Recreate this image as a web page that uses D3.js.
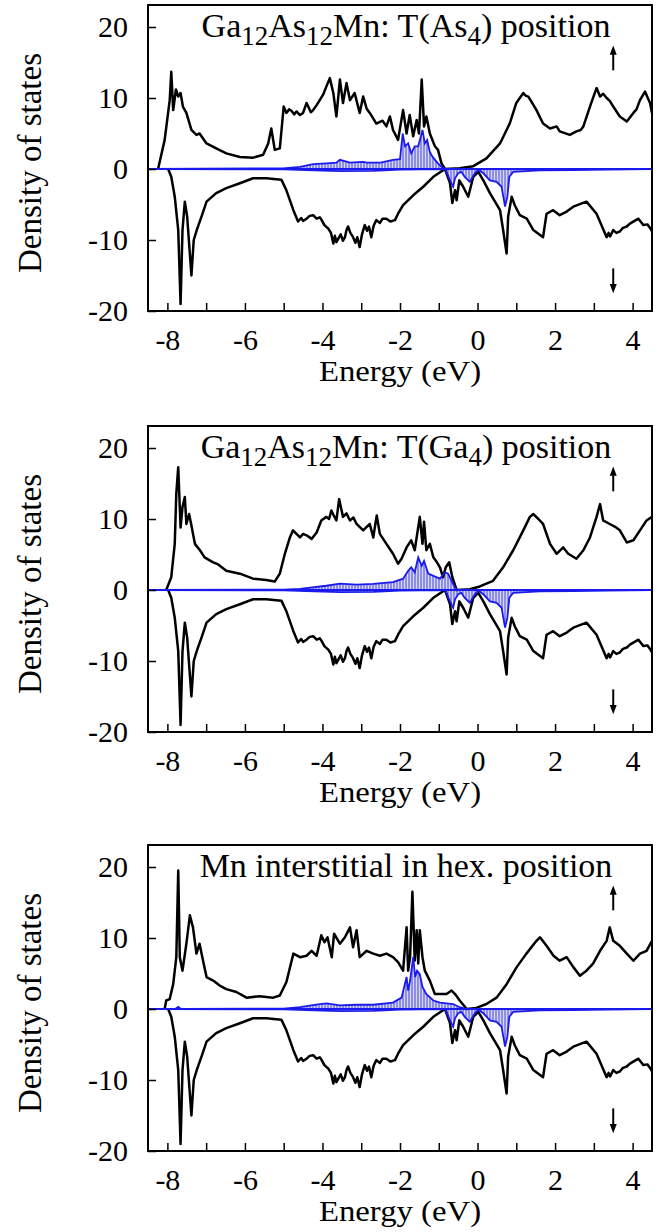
<!DOCTYPE html>
<html>
<head>
<meta charset="utf-8">
<script src="https://cdn.jsdelivr.net/npm/d3@7"></script>
<style>
  body { margin: 0; background: #fff; }
  text { font-family: "Liberation Serif", "Times New Roman", serif; fill: #000; }
</style>
</head>
<body>
<div id="chart"></div>
<script>
var svgWidth = 665;
var svgHeight = 1232;

// tick values
var energyTicks = d3.range(-8, 5, 1);
var dosTicks = [-20, -10, 0, 10, 20];

// total DOS, majority spin (one per panel) -- [energy eV, states]
var upAs4 = [[-8.24,0],[-8.07,4.1],[-7.94,9.7],[-7.9,13.7],[-7.85,8.3],[-7.78,11.2],[-7.72,10.2],[-7.66,10.7],[-7.6,8.8],[-7.51,7.9],[-7.38,5.5],[-7.25,4.8],[-7.17,5.0],[-6.99,3.6],[-6.74,2.9],[-6.48,2.2],[-6.13,1.7],[-5.79,1.6],[-5.53,2.0],[-5.4,3.6],[-5.32,5.7],[-5.23,2.7],[-5.1,2.9],[-5.0,8.8],[-4.93,7.9],[-4.86,8.4],[-4.8,8.2],[-4.73,7.7],[-4.67,8.1],[-4.58,7.6],[-4.5,7.9],[-4.41,9.3],[-4.35,8.6],[-4.3,8.0],[-4.24,8.3],[-4.15,9.0],[-4.07,9.7],[-3.98,10.5],[-3.9,11.6],[-3.81,12.8],[-3.72,10.7],[-3.64,7.4],[-3.55,12.6],[-3.47,9.3],[-3.38,12.1],[-3.29,9.7],[-3.17,10.7],[-3.04,7.9],[-2.95,10.2],[-2.86,8.5],[-2.78,7.9],[-2.7,7.2],[-2.61,6.4],[-2.45,6.8],[-2.35,6.0],[-2.26,7.4],[-2.18,5.5],[-2.05,4.1],[-1.92,8.3],[-1.83,5.0],[-1.75,7.6],[-1.66,4.6],[-1.57,6.9],[-1.51,5.0],[-1.44,12.6],[-1.38,6.0],[-1.32,7.4],[-1.23,5.0],[-1.1,3.2],[-1.02,2.7],[-0.93,0.8],[-0.84,0],[-0.46,0.1],[-0.11,0.4],[0.23,1.5],[0.58,3.6],[0.83,6.4],[1.0,9.3],[1.18,10.7],[1.25,10.3],[1.31,10.2],[1.42,9.2],[1.52,8.3],[1.69,6.4],[1.87,5.7],[2.04,6.0],[2.12,5.3],[2.38,4.8],[2.55,5.3],[2.66,5.5],[2.73,6.0],[2.9,8.8],[3.07,11.4],[3.16,10.2],[3.24,10.6],[3.33,10.0],[3.41,9.6],[3.5,8.8],[3.67,7.4],[3.85,6.7],[4.02,7.9],[4.1,8.4],[4.19,9.7],[4.32,10.9],[4.4,9.9],[4.45,9.3],[4.5,7.9]];

var upGa4 = [[-8.03,0],[-7.9,1.8],[-7.81,6.5],[-7.77,13.6],[-7.72,17.3],[-7.66,8.8],[-7.61,11.7],[-7.55,13.1],[-7.51,9.3],[-7.44,10.7],[-7.38,9.1],[-7.29,6.5],[-7.16,5.6],[-7.04,4.6],[-6.82,3.9],[-6.69,3.6],[-6.48,2.7],[-6.13,2.3],[-5.79,1.6],[-5.45,1.4],[-5.23,1.2],[-5.1,2.3],[-4.97,5.1],[-4.84,7.4],[-4.76,8.4],[-4.67,7.9],[-4.58,7.4],[-4.5,7.9],[-4.41,7.7],[-4.28,7.2],[-4.15,8.1],[-4.03,9.8],[-3.9,10.3],[-3.83,10.0],[-3.77,11.2],[-3.7,10.4],[-3.64,9.8],[-3.57,12.8],[-3.47,10.3],[-3.38,10.8],[-3.29,9.8],[-3.2,10.2],[-3.12,9.3],[-2.95,8.4],[-2.78,9.3],[-2.69,7.4],[-2.6,10.5],[-2.52,7.9],[-2.35,6.5],[-2.18,5.1],[-2.05,3.7],[-1.96,4.4],[-1.83,6.0],[-1.71,7.0],[-1.62,5.6],[-1.49,10.3],[-1.42,6.5],[-1.38,9.6],[-1.32,5.6],[-1.23,6.5],[-1.14,4.6],[-1.07,4.1],[-0.97,3.2],[-0.89,1.8],[-0.82,3.2],[-0.73,3.9],[-0.65,1.8],[-0.54,0],[-0.2,0.1],[0.06,0.5],[0.4,1.3],[0.66,3.2],[0.92,5.6],[1.18,8.4],[1.35,10.3],[1.44,10.7],[1.57,10.0],[1.69,9.3],[1.87,6.5],[2.04,5.1],[2.21,6.0],[2.34,5.1],[2.55,4.4],[2.73,5.6],[2.9,7.4],[3.07,10.3],[3.16,12.1],[3.24,9.8],[3.41,9.3],[3.55,8.9],[3.67,8.4],[3.85,6.7],[4.02,7.0],[4.19,8.4],[4.36,9.8],[4.5,10.3]];

var upHex = [[-8.07,0],[-8.03,1.2],[-7.94,1.4],[-7.85,3.5],[-7.77,7.3],[-7.72,19.5],[-7.68,7.3],[-7.61,5.4],[-7.51,9.2],[-7.42,13.2],[-7.34,11.5],[-7.25,7.8],[-7.17,9.2],[-7.08,6.8],[-6.99,4.5],[-6.82,4.0],[-6.65,3.3],[-6.48,2.8],[-6.22,2.4],[-5.96,1.6],[-5.62,1.8],[-5.27,1.6],[-5.1,1.9],[-4.93,3.8],[-4.75,7.8],[-4.58,7.3],[-4.41,7.5],[-4.28,8.2],[-4.15,7.5],[-4.03,10.4],[-3.95,9.4],[-3.87,10.1],[-3.76,7.3],[-3.7,10.6],[-3.55,9.2],[-3.42,10.1],[-3.29,11.5],[-3.21,8.7],[-3.12,11.1],[-3.04,7.3],[-2.86,8.2],[-2.69,7.8],[-2.52,7.5],[-2.35,7.8],[-2.18,7.3],[-2.05,6.6],[-1.92,5.4],[-1.83,11.5],[-1.79,5.4],[-1.74,7.3],[-1.68,16.5],[-1.62,6.8],[-1.57,11.1],[-1.53,6.4],[-1.49,11.1],[-1.42,7.3],[-1.36,5.4],[-1.23,4.0],[-1.1,2.1],[-0.8,2.1],[-0.67,2.6],[-0.58,2.1],[-0.46,1.2],[-0.28,0],[-0.03,0.15],[0.23,0.7],[0.49,1.6],[0.75,3.5],[1.01,5.9],[1.26,7.8],[1.52,9.6],[1.61,10.1],[1.78,8.9],[1.96,7.5],[2.12,6.8],[2.3,7.3],[2.47,5.9],[2.64,4.7],[2.81,5.4],[2.98,6.4],[3.16,8.2],[3.33,9.6],[3.41,11.5],[3.5,9.6],[3.67,8.9],[3.85,7.8],[4.02,6.8],[4.19,7.8],[4.36,8.2],[4.5,9.6]];

// total DOS, minority spin (same in all three panels)
var downTotal = [[-7.98,0],[-7.9,-1.1],[-7.81,-3.9],[-7.72,-8.6],[-7.66,-19],[-7.61,-8.6],[-7.55,-4.6],[-7.49,-6.7],[-7.38,-15],[-7.32,-10],[-7.23,-8.4],[-7.12,-6.7],[-6.99,-4.6],[-6.74,-3.4],[-6.48,-2.7],[-6.13,-2.0],[-5.79,-1.3],[-5.45,-1.3],[-5.06,-1.5],[-4.93,-3.0],[-4.75,-5.8],[-4.63,-7.4],[-4.55,-6.9],[-4.5,-7.3],[-4.41,-7.0],[-4.33,-6.6],[-4.24,-6.5],[-4.15,-7.0],[-4.07,-6.8],[-4.02,-7.2],[-3.95,-7.9],[-3.85,-8.4],[-3.78,-9.0],[-3.72,-10.5],[-3.68,-9.4],[-3.64,-10.3],[-3.59,-9.8],[-3.53,-9.2],[-3.47,-10.1],[-3.42,-9.6],[-3.38,-8.6],[-3.34,-8.1],[-3.28,-9.0],[-3.21,-9.6],[-3.15,-10.4],[-3.1,-9.6],[-3.04,-11.0],[-2.98,-9.2],[-2.91,-7.9],[-2.85,-8.7],[-2.8,-8.1],[-2.74,-9.6],[-2.68,-8.0],[-2.61,-7.2],[-2.52,-7.6],[-2.45,-7.0],[-2.35,-7.0],[-2.25,-7.4],[-2.13,-7.2],[-2.05,-6.3],[-1.92,-5.1],[-1.66,-3.7],[-1.4,-2.5],[-1.14,-1.1],[-0.84,0],[-0.71,-2.0],[-0.65,-4.8],[-0.58,-3.0],[-0.54,-4.4],[-0.47,-1.6],[-0.37,-2.5],[-0.24,-3.9],[-0.11,-1.1],[0.02,-0.4],[0.15,-1.6],[0.32,-3.4],[0.45,-4.6],[0.58,-5.8],[0.66,-8.6],[0.75,-11.9],[0.79,-6.7],[0.88,-3.9],[0.96,-5.1],[1.09,-6.5],[1.27,-7.0],[1.44,-8.6],[1.69,-9.6],[1.78,-6.3],[1.95,-5.8],[2.12,-6.5],[2.3,-6.0],[2.47,-5.3],[2.81,-4.6],[3.07,-6.3],[3.33,-9.6],[3.38,-9.0],[3.42,-9.5],[3.5,-8.6],[3.58,-9.0],[3.67,-8.8],[3.75,-8.3],[3.85,-8.1],[3.93,-7.7],[4.05,-7.3],[4.15,-7.0],[4.22,-7.5],[4.28,-7.9],[4.38,-7.8],[4.45,-8.3],[4.5,-8.8]];

// Mn d partial DOS
var mnUpAs4 = [[-8.5,0],[-5.02,0.1],[-4.58,0.3],[-4.24,0.7],[-3.9,0.8],[-3.64,0.9],[-3.55,1.3],[-3.29,0.9],[-2.95,1.0],[-2.86,0.9],[-2.5,0.9],[-2.18,1.3],[-2.0,1.4],[-1.93,5.0],[-1.87,3.2],[-1.79,3.6],[-1.71,2.2],[-1.62,3.2],[-1.53,3.2],[-1.42,5.5],[-1.36,3.6],[-1.3,4.1],[-1.23,2.4],[-1.16,1.7],[-1.02,0.8],[-0.93,0.3],[-0.84,0],[4.5,0]];
var mnUpGa4 = [[-8.5,0],[-5.0,0.05],[-4.58,0.15],[-3.9,0.6],[-3.55,0.9],[-3.12,0.75],[-2.69,0.85],[-2.18,1.1],[-1.92,1.6],[-1.79,2.7],[-1.71,3.2],[-1.62,2.5],[-1.53,4.6],[-1.44,3.4],[-1.38,4.1],[-1.27,2.3],[-1.14,2.0],[-0.97,1.6],[-0.84,2.5],[-0.76,2.3],[-0.63,0.85],[-0.54,0],[4.5,0]];
var mnUpHex = [[-8.5,0],[-7.8,0],[-7.72,0.3],[-7.65,0],[-5.0,0.05],[-4.58,0.25],[-4.07,0.7],[-3.9,0.8],[-3.55,0.5],[-3.12,0.6],[-2.69,0.6],[-2.18,0.9],[-1.96,1.6],[-1.83,4.5],[-1.79,2.6],[-1.74,4.0],[-1.66,7.3],[-1.61,4.5],[-1.56,5.4],[-1.49,4.9],[-1.42,3.1],[-1.32,2.1],[-1.14,1.2],[-0.97,0.9],[-0.63,0.7],[-0.46,0.25],[-0.28,0],[4.5,0]];
var mnDown = [[-8.5,0],[-5.0,-0.05],[-4.41,-0.15],[-3.55,-0.3],[-2.69,-0.25],[-2.0,-0.1],[-0.84,0],[-0.71,-1.6],[-0.63,-2.5],[-0.58,-1.3],[-0.5,-0.6],[-0.42,-0.4],[-0.33,-1.1],[-0.2,-1.8],[-0.07,-0.6],[0.02,-0.1],[0.15,-0.6],[0.32,-1.6],[0.49,-1.8],[0.62,-2.5],[0.71,-5.3],[0.77,-3.9],[0.82,-1.1],[0.92,-0.4],[1.6,-0.2],[2.47,-0.15],[3.33,-0.1],[4.5,0]];

// panel titles, pieces: [text, isSubscript]
var titleAs4 = [["Ga",0],["12",1],["As",0],["12",1],["Mn: T(As",0],["4",1],[") position",0]];
var titleGa4 = [["Ga",0],["12",1],["As",0],["12",1],["Mn: T(Ga",0],["4",1],[") position",0]];
var titleHex = [["Mn interstitial in hex. position",0]];

var panels = [
  {top: 5,   title: titleAs4, up: upAs4, down: downTotal, mnUp: mnUpAs4, mnDown: mnDown},
  {top: 426, title: titleGa4, up: upGa4, down: downTotal, mnUp: mnUpGa4, mnDown: mnDown},
  {top: 845, title: titleHex, up: upHex, down: downTotal, mnUp: mnUpHex, mnDown: mnDown}
];

var margin = {left: 148, right: 13};
var panelHeight = 306;
var serif = "'Liberation Serif', 'Times New Roman', serif";

var svg = d3.select("#chart")
  .append("svg")
  .attr("width", svgWidth)
  .attr("height", svgHeight);

// vertical hatching for the Mn d area
var pat = svg.append("defs").append("pattern")
  .attr("id", "hatch")
  .attr("patternUnits", "userSpaceOnUse")
  .attr("width", 3)
  .attr("height", 6);
pat.append("rect").attr("width", 3).attr("height", 6).attr("fill", "#d6d6f6");
pat.append("line").attr("x1", 1).attr("x2", 1).attr("y1", 0).attr("y2", 6)
  .attr("stroke", "#4646d6").attr("stroke-width", 1);

var x = d3.scaleLinear()
  .domain([-8.5, 4.5])
  .range([margin.left, svgWidth - margin.right]);

var y = d3.scaleLinear()
  .domain([-20, 23.1])
  .range([panelHeight, 0]);

var line = d3.line().x(d => x(d[0])).y(d => y(d[1]));
var area = d3.area().x(d => x(d[0])).y0(y(0)).y1(d => y(d[1]));

panels.forEach(function(p) {
  var g = svg.append("g").attr("transform", `translate(0, ${p.top})`);

  // clip to frame
  var clipId = "clip" + p.top;
  g.append("clipPath").attr("id", clipId)
    .append("rect")
    .attr("x", x.range()[0]).attr("y", 0)
    .attr("width", x.range()[1] - x.range()[0]).attr("height", panelHeight);

  var plot = g.append("g").attr("clip-path", `url(#${clipId})`);

  // Mn d hatched areas
  plot.append("path").datum(p.mnUp).attr("d", area).attr("fill", "url(#hatch)");
  plot.append("path").datum(p.mnDown).attr("d", area).attr("fill", "url(#hatch)");

  // total DOS
  plot.append("path").datum(p.up).attr("d", line)
    .attr("fill", "none").attr("stroke", "#000").attr("stroke-width", 2.5)
    .attr("stroke-linejoin", "round");
  plot.append("path").datum(p.down).attr("d", line)
    .attr("fill", "none").attr("stroke", "#000").attr("stroke-width", 2.5)
    .attr("stroke-linejoin", "round");

  // zero level
  plot.append("line")
    .attr("x1", x.range()[0]).attr("x2", x.range()[1])
    .attr("y1", y(0)).attr("y2", y(0))
    .attr("stroke", "#1a1aee").attr("stroke-width", 2.2);

  // Mn d outlines
  plot.append("path").datum(p.mnUp).attr("d", line)
    .attr("fill", "none").attr("stroke", "#1a1aee").attr("stroke-width", 1.8);
  plot.append("path").datum(p.mnDown).attr("d", line)
    .attr("fill", "none").attr("stroke", "#1a1aee").attr("stroke-width", 1.8);

  // axes
  var bottomAxis = d3.axisBottom(x)
    .tickValues(energyTicks)
    .tickFormat(d => d % 2 === 0 ? String(d) : "")
    .tickSizeInner(-8).tickSizeOuter(0).tickPadding(18);
  var leftAxis = d3.axisLeft(y)
    .tickValues(dosTicks)
    .tickFormat(d => String(d))
    .tickSizeInner(-8).tickSizeOuter(0).tickPadding(20);

  var xa = g.append("g")
    .attr("transform", `translate(0, ${panelHeight})`)
    .call(bottomAxis);
  var ya = g.append("g")
    .attr("transform", `translate(${margin.left}, 0)`)
    .call(leftAxis);

  [xa, ya].forEach(function(a) {
    a.attr("font-family", serif);
    a.select(".domain").remove();
    a.selectAll("line").attr("stroke", "#000").attr("stroke-width", 1.5);
    a.selectAll("text")
      .attr("fill", "#000")
      .style("font-family", serif)
      .style("font-size", "30px");
  });

  // frame
  g.append("rect")
    .attr("x", x.range()[0]).attr("y", 0)
    .attr("width", x.range()[1] - x.range()[0]).attr("height", panelHeight)
    .attr("fill", "none").attr("stroke", "#000").attr("stroke-width", 2);

  // spin arrows
  var ax = x(3.5);
  g.append("line").attr("x1", ax).attr("x2", ax).attr("y1", y(13.9)).attr("y2", y(16.4))
    .attr("stroke", "#000").attr("stroke-width", 2);
  g.append("path")
    .attr("d", `M${ax - 3.5},${y(16.1)} L${ax + 3.5},${y(16.1)} L${ax},${y(17.4)} Z`)
    .attr("fill", "#000");
  g.append("line").attr("x1", ax).attr("x2", ax).attr("y1", y(-14)).attr("y2", y(-16.5))
    .attr("stroke", "#000").attr("stroke-width", 2);
  g.append("path")
    .attr("d", `M${ax - 3.5},${y(-16.2)} L${ax + 3.5},${y(-16.2)} L${ax},${y(-17.5)} Z`)
    .attr("fill", "#000");

  // title
  var t = g.append("text")
    .attr("x", 406).attr("y", 32)
    .attr("text-anchor", "middle")
    .style("font-family", serif)
    .style("font-size", "34px");
  var shifted = false;
  p.title.forEach(function(piece) {
    var ts = t.append("tspan").text(piece[0]);
    if (piece[1]) {
      ts.attr("font-size", "27px").attr("dy", shifted ? 0 : 8);
      shifted = true;
    } else if (shifted) {
      ts.attr("dy", -8);
      shifted = false;
    }
  });

  // axis labels
  var cx = (x.range()[0] + x.range()[1]) / 2;
  g.append("text")
    .attr("transform", `translate(${cx}, ${panelHeight + 70}) scale(1.13, 1)`)
    .attr("text-anchor", "middle")
    .style("font-family", serif)
    .style("font-size", "29px")
    .text("Energy (eV)");

  g.append("text")
    .attr("transform", `translate(41, ${panelHeight / 2 + 5}) rotate(-90)`)
    .attr("text-anchor", "middle")
    .style("font-family", serif)
    .style("font-size", "33px")
    .text("Density of states");
});
</script>
</body>
</html>
